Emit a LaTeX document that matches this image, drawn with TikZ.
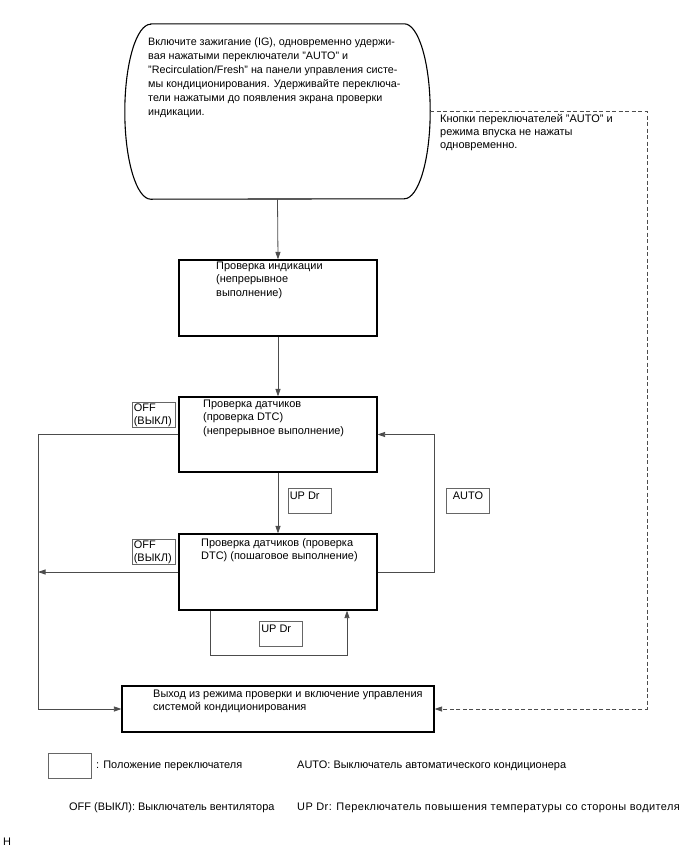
\documentclass[tikz,border=0pt]{standalone}
\usepackage{fontspec}
\setmainfont{Liberation Sans}
\usetikzlibrary{arrows.meta}

\begin{document}
\begin{tikzpicture}[x=1bp, y=-1bp,
  font=\fontsize{11}{13.2}\selectfont,
  box/.style={draw, line width=1.1bp, inner sep=0pt},
  sw/.style={draw=black!60, line width=0.8bp, inner sep=0pt, minimum width=43bp, minimum height=25bp},
  txt/.style={anchor=north west, align=left, inner sep=0pt},
  flow/.style={draw=black!70, line width=0.8bp, -{Triangle[length=7.5bp,width=5bp]}}]
  \useasboundingbox (0,0) rectangle (688,852);

  % start of the check
  \node[minimum width=305bp, minimum height=175bp, inner sep=0pt] (start) at (277.5,111.5) {};
  \draw[box] ([xshift=26bp]start.north west) -- ([xshift=-26bp]start.north east)
    arc[start angle=90, end angle=-90, x radius=26bp, y radius=87.5bp]
    -- ([xshift=26bp]start.south west)
    arc[start angle=-90, end angle=-270, x radius=26bp, y radius=87.5bp] -- cycle;
  \node[txt, font=\fontsize{10.8}{14}\selectfont] (starttxt) at (148,38)
    {Включите зажигание (IG), одновременно удержи-\\
     вая нажатыми переключатели "AUTO" и\\
     "Recirculation/Fresh" на панели управления систе-\\
     мы кондиционирования. Удерживайте переключа-\\
     тели нажатыми до появления экрана проверки\\
     индикации.};

  % mode boxes
  \node[box, minimum width=198bp, minimum height=76bp] (check) at (278,298) {};
  \node[txt] (checktxt) at (216,262) {Проверка индикации\\(непрерывное\\выполнение)};
  \node[box, minimum width=198bp, minimum height=75bp] (sensor1) at (278,434.5) {};
  \node[txt] (sensor1txt) at (203,400) {Проверка датчиков\\(проверка DTC)\\(непрерывное выполнение)};
  \node[box, minimum width=198bp, minimum height=76bp] (sensor2) at (278,572) {};
  \node[txt] (sensor2txt) at (201,538) {Проверка датчиков (проверка\\DTC) (пошаговое выполнение)};
  \node[box, minimum width=312bp, minimum height=46bp] (exit) at (278,709) {};
  \node[txt] (exittxt) at (153,690) {Выход из режима проверки и включение управления\\системой кондиционирования};

  % switches
  \node[sw] (off1) at (153.5,415) {};
  \node[txt] (off1txt) at ([shift={(2,1.5)}]off1.north west) {OFF\\(ВЫКЛ)};
  \node[sw] (off2) at (153.5,552) {};
  \node[txt] (off2txt) at ([shift={(2,1.5)}]off2.north west) {OFF\\(ВЫКЛ)};
  \node[sw] (updr1) at (309.5,500.5) {};
  \node[txt] (updr1txt) at ([shift={(2,4)}]updr1.north west) {UP Dr};
  \node[sw] (auto) at (468,500.5) {};
  \node[anchor=north, inner sep=0pt] (autotxt) at ([yshift=-4bp]auto.north) {AUTO};
  \node[sw] (updr2) at (281,633.5) {};
  \node[txt] (updr2txt) at ([shift={(2,4)}]updr2.north west) {UP Dr};

  \node[txt] (notpressed) at (440,114) {Кнопки переключателей "AUTO" и\\режима впуска не нажаты\\одновременно.};

  \coordinate (leftbus) at (38,0);
  \coordinate (rightbus) at (434,0);
  \coordinate (dashbus) at (647,0);

  % connectors
  \draw[flow] (start.south) -- (check.north);
  \draw[flow] (check.south) -- (sensor1.north);
  \draw[flow] (sensor1.south) -- (sensor2.north);
  \draw[flow] (sensor1.west) -- (sensor1.west -| leftbus) |- (exit.west);
  \draw[flow] (sensor2.west) -- (sensor2.west -| leftbus);
  \draw[flow] (sensor2.east) -| (rightbus |- sensor1.east) -- (sensor1.east);
  \draw[flow] ([xshift=-68bp]sensor2.south) -- ++(0,45) -| ([xshift=69bp]sensor2.south);
  \draw[flow, dash pattern=on 4bp off 2.5bp] (start.east) -- (start.east -| dashbus) |- (exit.east);

  % legend
  \node[sw] (legbox) at (69.5,766) {};
  \node[anchor=west, inner sep=0pt] (legpos) at (96,766) {: Положение переключателя};
  \node[anchor=west, inner sep=0pt] (legauto) at (297,766) {AUTO: Выключатель автоматического кондиционера};
  \node[anchor=west, inner sep=0pt] (legoff) at (69,808) {OFF (ВЫКЛ): Выключатель вентилятора};
  \node[anchor=west, inner sep=0pt] (legupdr) at (297,808)
    {\addfontfeature{LetterSpace=4}UP Dr: Переключатель повышения температуры со стороны водителя};
  \node[anchor=west, inner sep=0pt] (mark) at (3,842) {H};
\end{tikzpicture}
\end{document}
